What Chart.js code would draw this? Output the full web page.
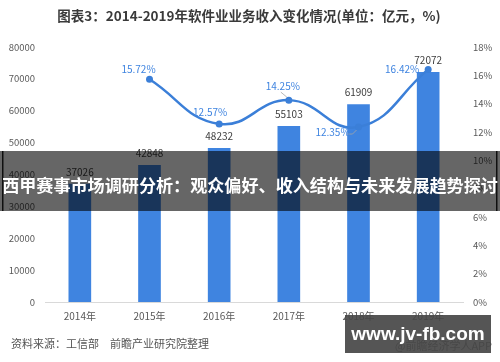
<!DOCTYPE html>
<html><head><meta charset="utf-8">
<script src="https://cdn.jsdelivr.net/npm/chart.js@4.4.1/dist/chart.umd.min.js"></script>
<style>html,body{margin:0;padding:0;background:#fff;}#wrap{width:500px;height:362px;position:relative;}</style>
</head><body><div id="wrap"><canvas id="c" width="500" height="362"></canvas></div>
<script>
const categories = ['2014年','2015年','2016年','2017年','2018年','2019年'];
const revenue = [37026, 42848, 48232, 55103, 61909, 72072];
const growth = [null, 15.72, 12.57, 14.25, 12.35, 16.42];
const leftTicks = [0,10000,20000,30000,40000,50000,60000,70000,80000];
const rightTicks = [0,2,4,6,8,10,12,14,16,18];
const titleText = '图表3：2014-2019年软件业业务收入变化情况(单位：亿元，%)';
const sourceText = '资料来源：工信部　前瞻产业研究院整理';
const creditText = '@前瞻经济学人APP';
const bannerText = '西甲赛事市场调研分析：观众偏好、收入结构与未来发展趋势探讨';
const watermarkText = 'www.jv-fb.com';

const FONT = '"Noto Sans CJK SC", "Liberation Sans", sans-serif';
const pctOffsets = [null, [-11,-10], [-9,-12], [-6,-14], [-26,5], [-26,0]];

const overlay = {
  id: 'overlay',
  afterDatasetsDraw(chart) {
    const ctx = chart.ctx;
    ctx.save();
    const barMeta = chart.getDatasetMeta(0);
    ctx.font = '10px ' + FONT;
    ctx.fillStyle = '#404040';
    ctx.textAlign = 'center';
    ctx.textBaseline = 'middle';
    barMeta.data.forEach((el, i) => {
      ctx.fillText(String(revenue[i]), el.x, el.y - 12);
    });
    const lineMeta = chart.getDatasetMeta(1);
    ctx.font = '10px ' + FONT;
    lineMeta.data.forEach((el, i) => {
      if (growth[i] == null) return;
      const o = pctOffsets[i];
      const tx = el.x + o[0], ty = el.y + o[1];
      if (i === 3 || i === 4) {
        ctx.strokeStyle = '#a6a6a6';
        ctx.lineWidth = 0.8;
        ctx.beginPath();
        if (i === 3) { ctx.moveTo(tx - 2, ty + 6); ctx.lineTo(el.x - 2, el.y - 3); }
        else { ctx.moveTo(tx + 15, ty + 2); ctx.lineTo(el.x - 6, ty + 2); ctx.lineTo(el.x - 2, el.y + 3); }
        ctx.stroke();
      }
      ctx.fillStyle = '#3f84e0';
      ctx.fillText(growth[i].toFixed(2) + '%', tx, ty);
    });
    ctx.restore();
  },
  afterDraw(chart) {
    const ctx = chart.ctx;
    ctx.save();
    ctx.font = 'bold 13.5px ' + FONT;
    ctx.fillStyle = '#3a3a3a';
    ctx.textAlign = 'center';
    ctx.textBaseline = 'middle';
    ctx.fillText(titleText, 249, 16);
    ctx.font = '11px ' + FONT;
    ctx.fillStyle = '#555555';
    ctx.textAlign = 'left';
    ctx.fillText(sourceText, 11, 344);
    ctx.fillText(creditText, 395, 346);
    ctx.fillStyle = 'rgba(0,0,0,0.6)';
    ctx.fillRect(0, 151, 500, 60);
    ctx.fillStyle = 'rgba(0,0,0,0.85)';
    ctx.fillRect(2, 151, 1.5, 60);
    ctx.fillRect(496, 151, 1.5, 60);
    ctx.font = 'bold 17.1px ' + FONT;
    ctx.fillStyle = '#ffffff';
    ctx.textAlign = 'center';
    ctx.fillText(bannerText, 250, 185);
    ctx.fillStyle = 'rgba(70,70,70,0.92)';
    ctx.fillRect(345, 315, 146, 38);
    ctx.font = 'bold 19px "Liberation Sans", sans-serif';
    ctx.fillStyle = '#ffffff';
    ctx.fillText(watermarkText, 418, 335);
    ctx.restore();
  }
};

new Chart(document.getElementById('c'), {
  data: {
    labels: categories,
    datasets: [
      { type: 'bar', data: revenue, yAxisID: 'y', backgroundColor: '#3f84e0',
        barThickness: 22, order: 2 },
      { type: 'line', data: growth, yAxisID: 'y1', borderColor: '#3b7fd8',
        backgroundColor: '#3b7fd8', borderWidth: 2.5, tension: 0.45,
        pointRadius: 3.5, pointBackgroundColor: '#3b7fd8', pointBorderWidth: 0, order: 1 }
    ]
  },
  options: {
    responsive: false,
    animation: false,
    devicePixelRatio: 1,
    layout: { padding: { top: 47, left: 0, right: 0, bottom: 0 } },
    plugins: { legend: { display: false }, tooltip: { enabled: false } },
    scales: {
      x: {
        grid: { display: false, drawTicks: false },
        border: { display: true, color: '#d9d9d9', width: 1 },
        ticks: { color: '#595959', font: { size: 10, family: FONT }, padding: 8 },
        afterFit(s) { s.height = 60; }
      },
      y: {
        position: 'left', min: 0, max: 80000,
        afterBuildTicks(s) { s.ticks = leftTicks.map(v => ({ value: v })); },
        grid: { display: false, drawTicks: false },
        border: { display: false },
        ticks: { color: '#595959', font: { size: 9.5, family: FONT }, padding: 10,
          callback: v => String(v) },
        afterFit(s) { s.width = 45; }
      },
      y1: {
        position: 'right', min: 0, max: 18,
        afterBuildTicks(s) { s.ticks = rightTicks.map(v => ({ value: v })); },
        grid: { display: false, drawTicks: false },
        border: { display: false },
        ticks: { color: '#595959', font: { size: 9.5, family: FONT }, padding: 10,
          callback: v => v + '%' },
        afterFit(s) { s.width = 37; }
      }
    }
  },
  plugins: [overlay]
});
</script></body></html>
